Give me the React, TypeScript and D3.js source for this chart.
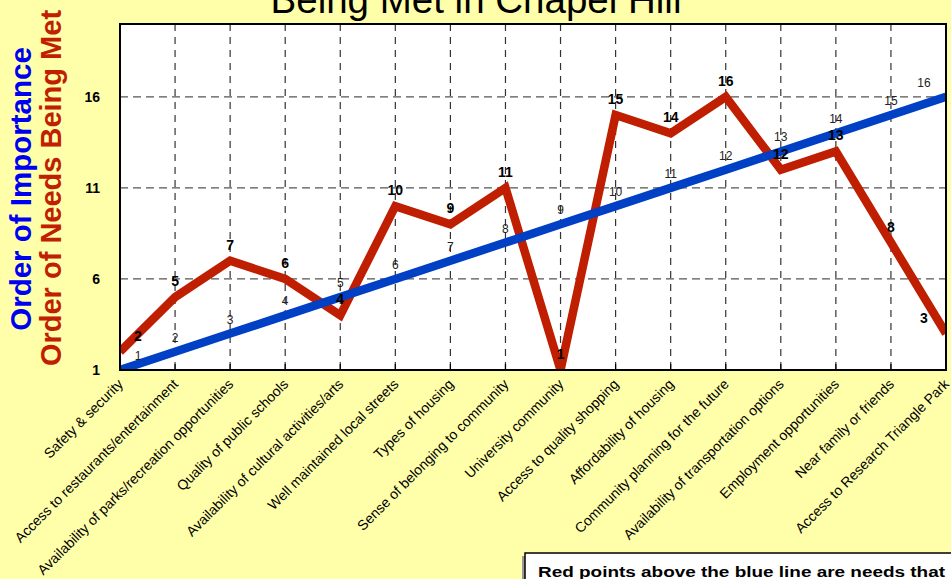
import React from "react";
import * as d3 from "d3";

const categories = [
  "Safety & security",
  "Access to restaurants/entertainment",
  "Availability of parks/recreation opportunities",
  "Quality of public schools",
  "Availability of cultural activities/arts",
  "Well maintained local streets",
  "Types of housing",
  "Sense of belonging to community",
  "University community",
  "Access to quality shopping",
  "Affordability of housing",
  "Community planning for the future",
  "Availability of transportation options",
  "Employment opportunities",
  "Near family or friends",
  "Access to Research Triangle Park",
];
const importance = [1, 2, 3, 4, 5, 6, 7, 8, 9, 10, 11, 12, 13, 14, 15, 16];
const needsMet = [2, 5, 7, 6, 4, 10, 9, 11, 1, 15, 14, 16, 12, 13, 8, 3];
const yTicks = [1, 6, 11, 16];

const W = 951;
const H = 579;
const M = { left: 120, right: 946, top: 24, bottom: 370 };
const FONT = "'Liberation Sans', Arial, Helvetica, sans-serif";

export default function App() {
  const x = d3
    .scalePoint<number>()
    .domain(d3.range(categories.length))
    .range([M.left, M.right]);
  const y = d3.scaleLinear().domain([1, 20]).range([M.bottom, M.top]);

  const line = d3
    .line<number>()
    .x((_, i) => x(i)!)
    .y((d) => y(d));

  const edgeShift = (i: number) =>
    i === 0 ? 18 : i === categories.length - 1 ? -22 : 0;

  return (
    <svg
      width={W}
      height={H}
      style={{ position: "absolute", left: 0, top: 0, display: "block" }}
    >
      <defs>
        <clipPath id="plotClip">
          <rect x={M.left} y={M.top} width={M.right - M.left} height={M.bottom - M.top} />
        </clipPath>
      </defs>
      <rect x={0} y={0} width={W} height={H} fill="#FFFFAA" />
      <text
        x={476}
        y={13}
        textAnchor="middle"
        fontFamily={FONT}
        fontSize={38.5}
        fill="#000"
      >
        Being Met in Chapel Hill
      </text>

      <rect
        x={M.left}
        y={M.top}
        width={M.right - M.left}
        height={M.bottom - M.top}
        fill="#fff"
      />

      {/* grid */}
      {yTicks.map((t) => (
        <line
          key={"h" + t}
          x1={M.left}
          x2={M.right}
          y1={y(t)}
          y2={y(t)}
          stroke="#555"
          strokeWidth={1.3}
          strokeDasharray="8,5"
        />
      ))}
      {d3.range(1, categories.length - 1).map((i) => (
        <line
          key={"v" + i}
          x1={x(i)}
          x2={x(i)}
          y1={M.top}
          y2={M.bottom}
          stroke="#333"
          strokeWidth={1.2}
          strokeDasharray="7,6"
        />
      ))}
      {d3.range(categories.length).map((i) => (
        <line
          key={"t" + i}
          x1={x(i)}
          x2={x(i)}
          y1={M.bottom - 6}
          y2={M.bottom}
          stroke="#000"
          strokeWidth={1.2}
        />
      ))}

      <g clipPath="url(#plotClip)">
        <path
          d={line(needsMet) || ""}
          fill="none"
          stroke="#BF1E00"
          strokeWidth={8.5}
          strokeLinejoin="miter"
          strokeMiterlimit={6}
        />
        <path
          d={line(importance) || ""}
          fill="none"
          stroke="#0040C4"
          strokeWidth={8.5}
        />
      </g>

      {/* blue labels */}
      {importance.map((v, i) => (
        <text
          key={"bl" + i}
          x={x(i)! + edgeShift(i)}
          y={y(v) - 10}
          textAnchor="middle"
          fontFamily={FONT}
          fontSize={12}
          fill="#222"
        >
          {v}
        </text>
      ))}
      {/* red labels */}
      {needsMet.map((v, i) => (
        <text
          key={"rl" + i}
          x={x(i)! + edgeShift(i)}
          y={y(v) - 11}
          textAnchor="middle"
          fontFamily={FONT}
          fontSize={14}
          fontWeight="bold"
          fill="#000"
        >
          {v}
        </text>
      ))}

      {/* border */}
      <rect
        x={M.left}
        y={M.top}
        width={M.right - M.left}
        height={M.bottom - M.top}
        fill="none"
        stroke="#000"
        strokeWidth={2}
      />

      {/* y ticks */}
      {yTicks.map((t) => (
        <text
          key={"yt" + t}
          x={100}
          y={y(t) + 5}
          textAnchor="end"
          fontFamily={FONT}
          fontSize={14}
          fontWeight="bold"
          fill="#000"
        >
          {t}
        </text>
      ))}

      {/* y titles */}
      <text
        transform={`translate(31,189) rotate(-90)`}
        textAnchor="middle"
        fontFamily={FONT}
        fontSize={29.5}
        fontWeight="bold"
        fill="#0000F0"
      >
        Order of Importance
      </text>
      <text
        transform={`translate(61,188) rotate(-90)`}
        textAnchor="middle"
        fontFamily={FONT}
        fontSize={29}
        fontWeight="bold"
        fill="#C02000"
      >
        Order of Needs Being Met
      </text>

      {/* x labels */}
      {categories.map((c, i) => (
        <text
          key={"xl" + i}
          transform={`translate(${x(i)! + 4},${M.bottom + 15}) rotate(-45)`}
          textAnchor="end"
          fontFamily={FONT}
          fontSize={14}
          fill="#000"
        >
          {c}
        </text>
      ))}

      {/* note box */}
      <rect x={522} y={556} width={440} height={40} fill="#999" />
      <rect
        x={525}
        y={553}
        width={440}
        height={40}
        fill="#fff"
        stroke="#000"
        strokeWidth={1.5}
      />
      <text
        x={538}
        y={577}
        fontFamily={FONT}
        fontSize={14}
        fontWeight="bold"
        fill="#000"
        textLength={407}
        lengthAdjust="spacingAndGlyphs"
      >
        Red points above the blue line are needs that
      </text>
    </svg>
  );
}
